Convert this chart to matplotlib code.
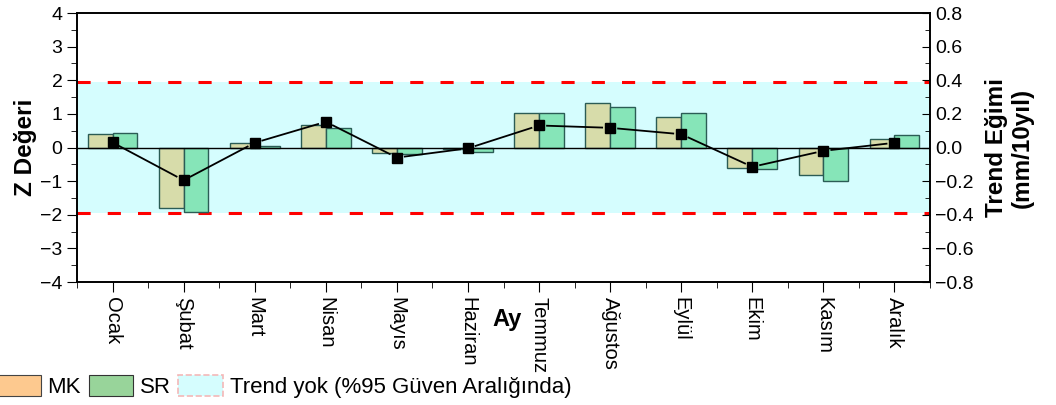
import numpy as np
import matplotlib
matplotlib.use("Agg")
import matplotlib.pyplot as plt
from matplotlib.patches import Patch
from matplotlib.ticker import MultipleLocator

plt.rcParams['font.family'] = ['Liberation Sans', 'DejaVu Sans']
plt.rcParams['axes.unicode_minus'] = True

# 資料
months = ['Ocak', 'Şubat', 'Mart', 'Nisan', 'Mayıs', 'Haziran',
          'Temmuz', 'Ağustos', 'Eylül', 'Ekim', 'Kasım', 'Aralık']
mk_z = [0.41, -1.81, 0.12, 0.67, -0.16, -0.05, 1.02, 1.32, 0.91, -0.62, -0.81, 0.26]
sr_z = [0.44, -1.91, 0.04, 0.57, -0.18, -0.12, 1.04, 1.21, 1.04, -0.64, -1.01, 0.37]
trend_slope = [0.030, -0.195, 0.028, 0.153, -0.060, -0.005, 0.131, 0.117, 0.079, -0.115, -0.020, 0.028]
z_crit = 1.96

band_color = '#d5fdfe'
mk_color = '#d7dcaa'
sr_color = '#86e5b8'
edge_color = '#2b5c55'

fig = plt.figure(figsize=(10.56, 4.05), dpi=100)
ax = fig.add_axes([0.0729, 0.3037, 0.8078, 0.6642])
x = np.arange(len(months))
w = 0.35

# 信賴區間帶
ax.axhspan(-z_crit, z_crit, color=band_color, zorder=0, lw=0)
for yv in (z_crit, -z_crit):
    ax.axhline(yv, color='#ff0000', lw=2.2, dashes=(4.3, 5.6), zorder=1)

ax.bar(x - w / 2, mk_z, w, color=mk_color, edgecolor=edge_color, lw=1, zorder=2)
ax.bar(x + w / 2, sr_z, w, color=sr_color, edgecolor=edge_color, lw=1, zorder=2)
ax.axhline(0, color='black', lw=1, zorder=3)

ax.set_xlim(-0.5, 11.5)
ax.set_ylim(-4, 4)
ax.yaxis.set_major_locator(MultipleLocator(1))
ax.yaxis.set_minor_locator(MultipleLocator(0.5))
ax.set_xticks(x)
ax.set_xticks(np.arange(-0.5, 12, 1), minor=True)
ax.set_xticklabels(months, rotation=270, fontsize=14.5)
ax.tick_params(axis='y', which='major', direction='out', labelsize=14, length=7, right=False)
ax.tick_params(axis='y', which='minor', direction='out', length=4, right=False)
ax.tick_params(axis='x', which='major', direction='out', length=7)
ax.tick_params(axis='x', which='minor', direction='out', length=4)
ax.tick_params(axis='x', pad=4)
ax.set_ylabel('Z Değeri', fontsize=17.5, fontweight='bold', labelpad=2)
ax.set_xlabel('Ay', fontsize=17, fontweight='bold')
ax.xaxis.set_label_coords(0.504, -0.141)
ax.xaxis.label.set_va('center')

# 趨勢斜率 (右軸)
ax2 = ax.twinx()
ax2.set_ylim(-0.8, 0.8)
ax2.yaxis.set_major_locator(MultipleLocator(0.2))
ax2.yaxis.set_minor_locator(MultipleLocator(0.1))
ax2.tick_params(axis='y', which='major', direction='in', labelsize=14, length=6)
ax2.tick_params(axis='y', which='minor', direction='in', length=3.5)
ax2.set_yticklabels([f'{v:.1f}'.replace('-', '\u2212') for v in ax2.get_yticks()])
ax2.set_ylabel('Trend Eğimi\n(mm/10yıl)', fontsize=17.5, fontweight='bold', labelpad=8)

# 線段在標記附近留空
pts = ax2.transData.transform(np.column_stack([x, trend_slope]))
gap = 8.0
for p0, p1 in zip(pts[:-1], pts[1:]):
    d = p1 - p0
    L = np.hypot(*d)
    if L <= 2 * gap:
        continue
    u = d / L
    seg = ax2.transData.inverted().transform([p0 + u * gap, p1 - u * gap])
    ax2.plot(seg[:, 0], seg[:, 1], color='black', lw=1.3, zorder=4)
ax2.plot(x, trend_slope, ls='none', marker='s', ms=7.5, color='black', zorder=5)

for a in (ax, ax2):
    for s in a.spines.values():
        s.set_linewidth(1.2)

handles = [
    Patch(facecolor='#fdc98f', edgecolor='#444444', lw=0.8, label='MK'),
    Patch(facecolor='#98d49a', edgecolor='#333333', lw=0.8, label='SR'),
    Patch(facecolor=band_color, edgecolor='#f4b8b8', lw=1.2, ls='--',
          label='Trend yok (%95 Güven Aralığında)'),
]
fig.legend(handles=handles, loc='lower left', bbox_to_anchor=(-0.012, -0.005),
           ncol=3, frameon=False, fontsize=16, handlelength=2.0, handleheight=1.1,
           handletextpad=0.3, columnspacing=0.35, borderaxespad=0.0)

fig.savefig('out.png', dpi=100)
